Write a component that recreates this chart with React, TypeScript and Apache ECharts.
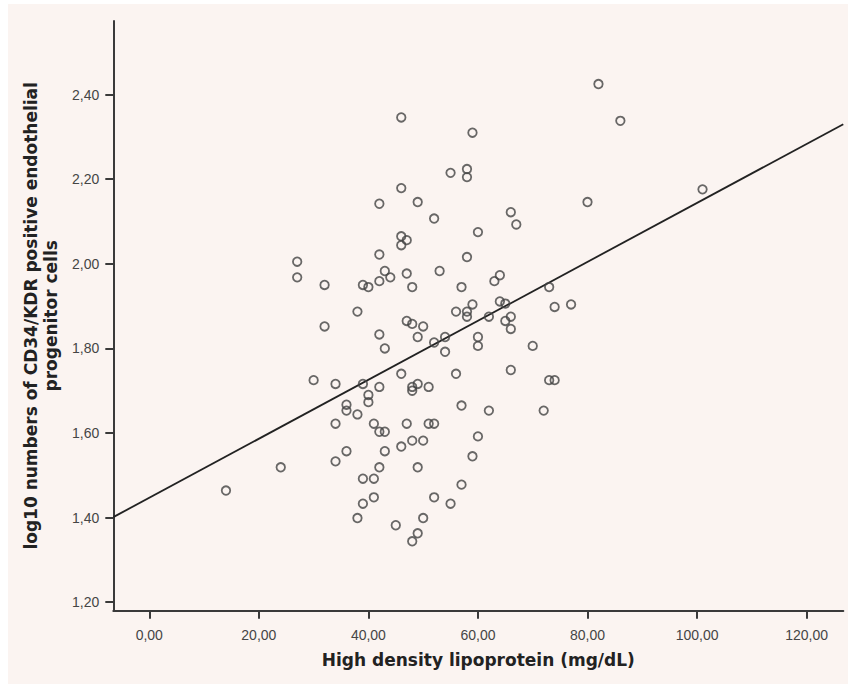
import React, { useEffect, useRef } from "react";
import * as echarts from "echarts";

// High density lipoprotein (mg/dL)
const hdl = [
  82, 86, 46, 59, 55, 58, 58, 46, 101, 42, 49, 80, 52, 66, 67, 60, 46, 47, 46, 27,
  42, 58, 27, 43, 44, 47, 53, 42, 32, 39, 40, 48, 57, 63, 64, 73, 59, 64, 65, 74,
  77, 38, 56, 58, 58, 62, 66, 65, 66, 32, 47, 48, 50, 42, 49, 54, 60, 52, 60, 70,
  43, 54, 30, 34, 39, 42, 46, 56, 66, 49, 48, 48, 51, 73, 74, 40, 40, 36, 36, 38,
  57, 62, 72, 34, 41, 47, 51, 52, 42, 43, 60, 48, 50, 36, 43, 46, 34, 59, 24, 42,
  49, 39, 41, 14, 57, 41, 52, 39, 55, 38, 50, 45, 49, 48,
];

// log10 numbers of CD34/KDR positive endothelial progenitor cells
const epc = [
  2.425, 2.338, 2.346, 2.31, 2.215, 2.224, 2.205, 2.179, 2.176, 2.142, 2.146, 2.146, 2.107, 2.122, 2.093, 2.075, 2.065, 2.056, 2.044, 2.005,
  2.022, 2.016, 1.968, 1.983, 1.968, 1.977, 1.983, 1.959, 1.95, 1.95, 1.945, 1.945, 1.945, 1.959, 1.973, 1.945, 1.904, 1.911, 1.906, 1.898,
  1.904, 1.887, 1.887, 1.887, 1.875, 1.875, 1.875, 1.865, 1.846, 1.852, 1.865, 1.858, 1.852, 1.833, 1.827, 1.827, 1.827, 1.814, 1.806, 1.806,
  1.8, 1.792, 1.725, 1.716, 1.716, 1.709, 1.74, 1.74, 1.749, 1.716, 1.709, 1.7, 1.709, 1.725, 1.725, 1.69, 1.673, 1.667, 1.653, 1.644,
  1.665, 1.653, 1.653, 1.622, 1.622, 1.622, 1.622, 1.622, 1.603, 1.603, 1.592, 1.582, 1.582, 1.557, 1.557, 1.568, 1.533, 1.545, 1.519, 1.519,
  1.519, 1.492, 1.492, 1.464, 1.478, 1.448, 1.448, 1.433, 1.433, 1.399, 1.399, 1.382, 1.363, 1.344,
];

const xTicks = [0, 20, 40, 60, 80, 100, 120];
const yTicks = [1.2, 1.4, 1.6, 1.8, 2.0, 2.2, 2.4];

const xRange = [-6.57, 126.7];
const yRange = [1.18, 2.574];

// Fit line: y = intercept + slope * x
const fitIntercept = 1.447;
const fitSlope = 0.00697;

const xTitle = "High density lipoprotein (mg/dL)";
const yTitle = "log10 numbers of CD34/KDR positive endothelial\nprogenitor cells";

const fmt = (v: number) => v.toFixed(2).replace(".", ",");

export default function App() {
  const ref = useRef<HTMLDivElement>(null);
  useEffect(() => {
    if (!ref.current) return;
    const chart = echarts.init(ref.current, undefined, { renderer: "svg" });
    const points = hdl.map((x, i) => [x, epc[i]]);
    const fit = xRange.map((x) => [x, fitIntercept + fitSlope * x]);
    const axisColor = "#3a3a3a";
    chart.setOption({
      animation: false,
      backgroundColor: "#ffffff",
      graphic: [
        {
          type: "rect",
          z: -10,
          silent: true,
          shape: { x: 8, y: 4, width: 840, height: 680 },
          style: { fill: "#fbf4f1" },
        },
      ],
      grid: { left: 113.3, right: 4.7, top: 21, bottom: 73.3, containLabel: false },
      xAxis: {
        type: "value",
        min: xRange[0],
        max: xRange[1],
        splitLine: { show: false },
        axisLine: { onZero: false, lineStyle: { color: axisColor, width: 2 } },
        axisTick: {
          show: true,
          customValues: xTicks,
          length: 8,
          lineStyle: { color: axisColor, width: 2 },
        },
        axisLabel: {
          customValues: xTicks,
          formatter: (v: number) => fmt(v),
          margin: 17,
          fontFamily: "Liberation Sans, Arial, sans-serif",
          fontSize: 14,
          color: "#454545",
        },
        name: xTitle,
        nameLocation: "middle",
        nameGap: 41,
        nameTextStyle: {
          fontFamily: "DejaVu Sans, sans-serif",
          fontWeight: "bold",
          fontSize: 17,
          color: "#222",
        },
      },
      yAxis: {
        type: "value",
        min: yRange[0],
        max: yRange[1],
        splitLine: { show: false },
        axisLine: { onZero: false, lineStyle: { color: axisColor, width: 2 } },
        axisTick: {
          show: true,
          customValues: yTicks,
          length: 8,
          lineStyle: { color: axisColor, width: 2 },
        },
        axisLabel: {
          customValues: yTicks,
          formatter: (v: number) => fmt(v),
          margin: 14,
          fontFamily: "Liberation Sans, Arial, sans-serif",
          fontSize: 14,
          color: "#454545",
        },
        name: yTitle,
        nameLocation: "middle",
        nameRotate: 90,
        nameGap: 48,
        nameTextStyle: {
          fontFamily: "DejaVu Sans, sans-serif",
          fontWeight: "bold",
          fontSize: 17,
          lineHeight: 20,
          color: "#222",
          align: "center",
        },
      },
      series: [
        {
          type: "line",
          data: fit,
          showSymbol: false,
          symbol: "none",
          lineStyle: { color: "#222", width: 1.8 },
          silent: true,
          z: 1,
        },
        {
          type: "scatter",
          data: points,
          symbol: "circle",
          symbolSize: 8.5,
          itemStyle: {
            color: "rgba(0,0,0,0)",
            borderColor: "#444",
            borderWidth: 1.8,
          },
          z: 2,
        },
      ],
    });
    return () => chart.dispose();
  }, []);
  return (
    <div
      ref={ref}
      style={{ position: "absolute", left: 0, top: 0, width: 848, height: 684 }}
    />
  );
}
